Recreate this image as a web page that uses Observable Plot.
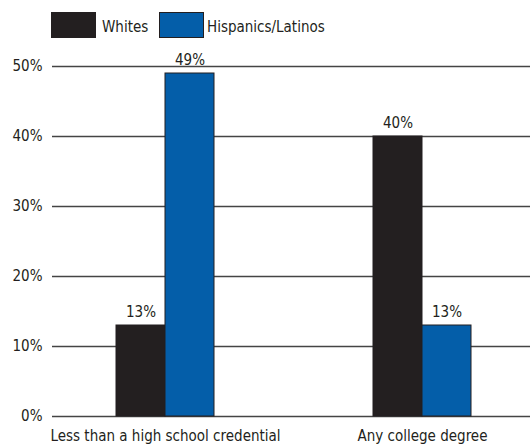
<!DOCTYPE html>
<html><head><meta charset="utf-8">
<script src="https://cdn.jsdelivr.net/npm/d3@7"></script>
<script src="https://cdn.jsdelivr.net/npm/@observablehq/plot@0.6"></script>
<style>
body{margin:0;background:#fff;font-family:"Liberation Sans Narrow","DejaVu Sans Condensed",sans-serif;}
#legend{position:relative;height:44px;width:530px;font-size:15px;color:#231f20;}
.sw{position:absolute;top:12px;width:43px;height:24px;border:1px solid #231f20;}
.lb{position:absolute;top:19px;line-height:17px;}
</style></head><body>
<div id="legend"></div>
<div id="chart"></div>
<script>
const categories = ["Less than a high school credential", "Any college degree"];
const series = ["Whites", "Hispanics/Latinos"];
const whites = [13, 40];
const hispanics = [49, 13];
const yTicks = [0, 10, 20, 30, 40, 50];
const colors = ["#231f20", "#045ea9"];

const data = categories.flatMap((c, i) => [
  {category: c, series: series[0], value: whites[i]},
  {category: c, series: series[1], value: hispanics[i]}
]);

const leg = document.getElementById("legend");
const legPos = [[51, 102], [159, 207]];
series.forEach((s, i) => {
  const sw = document.createElement("div");
  sw.className = "sw"; sw.style.left = legPos[i][0] + "px"; sw.style.background = colors[i];
  leg.appendChild(sw);
  const lb = document.createElement("div");
  lb.className = "lb"; lb.style.left = legPos[i][1] + "px"; lb.textContent = s;
  leg.appendChild(lb);
});

const half = 49;
const chart = Plot.plot({
  width: 530, height: 401,
  marginLeft: 52, marginRight: 0, marginTop: 22, marginBottom: 29,
  style: {fontFamily: '"Liberation Sans Narrow","DejaVu Sans Condensed",sans-serif', fontSize: "15px", color: "#231f20"},
  x: {domain: categories, paddingInner: 0.62, paddingOuter: 0.2364, align: 0.52, label: null, tickSize: 0, tickPadding: 14},
  y: {domain: [0, 50], ticks: yTicks, tickFormat: d => d + "%", label: null, tickSize: 0, tickPadding: 10},
  color: {domain: series, range: colors},
  marks: [
    Plot.ruleY(yTicks, {stroke: "#444", strokeWidth: 1.5}),
    Plot.barY(data.filter(d => d.series === series[0]), {x: "category", y: "value", fill: "series", stroke: "#231f20", strokeWidth: 1, insetRight: half}),
    Plot.barY(data.filter(d => d.series === series[1]), {x: "category", y: "value", fill: "series", stroke: "#231f20", strokeWidth: 1, insetLeft: half}),
    Plot.text(data.filter(d => d.series === series[0]), {x: "category", y: "value", text: d => d.value + "%", dx: -half/2, dy: -13, fill: "#231f20"}),
    Plot.text(data.filter(d => d.series === series[1]), {x: "category", y: "value", text: d => d.value + "%", dx: half/2, dy: -13, fill: "#231f20"})
  ]
});
document.getElementById("chart").appendChild(chart);
</script>
</body></html>
